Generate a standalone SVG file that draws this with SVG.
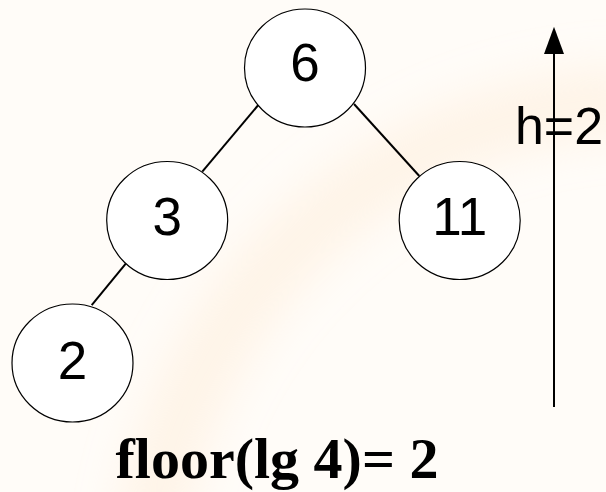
<svg xmlns="http://www.w3.org/2000/svg" width="606" height="492" viewBox="0 0 606 492">
<defs>
<style>
.node ellipse{fill:#ffffff;stroke:#000000;stroke-width:1.2}
.node text{font-family:"Liberation Sans",Arial,sans-serif;font-size:53px;fill:#000000;text-anchor:middle}
.edge{stroke:#000000;stroke-width:2;fill:none}
</style>
<filter id="soft" x="-30%" y="-30%" width="160%" height="160%"><feGaussianBlur stdDeviation="22"/></filter>
</defs>
<rect width="606" height="492" fill="#fffcf8"/>
<path d="M640,100 A500,500 0 0 0 150,540" fill="none" stroke="#fbe4c8" stroke-opacity="0.35" stroke-width="70" filter="url(#soft)"/>
<g id="connectors">
<line class="edge" x1="258.3" y1="105" x2="202.3" y2="171.7"/>
<line class="edge" x1="354" y1="104" x2="419.3" y2="176"/>
<line class="edge" x1="126" y1="263.3" x2="91.7" y2="305.2"/>
</g>
<g id="node-6" class="node"><ellipse cx="305" cy="68" rx="60.5" ry="59"/><text x="305" y="81">6</text></g>
<g id="node-3" class="node"><ellipse cx="167.2" cy="220.5" rx="60.5" ry="59"/><text x="167.2" y="235">3</text></g>
<g id="node-11" class="node"><ellipse cx="459.7" cy="220.5" rx="60.5" ry="59"/><text x="459.7" y="235">11</text></g>
<g id="node-2" class="node"><ellipse cx="72.5" cy="363" rx="60.5" ry="59"/><text x="72.5" y="379">2</text></g>
<g id="height-arrow">
<line x1="554" y1="407" x2="554" y2="52" stroke="#000000" stroke-width="2"/>
<path d="M544,54 L554,26.7 L564,54 Z" fill="#000000"/>
<text x="515" y="144" font-family="Liberation Sans, Arial, sans-serif" font-size="51" fill="#000000" textLength="88" lengthAdjust="spacingAndGlyphs">h=2</text>
</g>
<text x="277" y="478" font-family="Liberation Serif, 'Times New Roman', serif" font-weight="bold" font-size="58" fill="#000000" text-anchor="middle">floor(lg 4)= 2</text>
</svg>
